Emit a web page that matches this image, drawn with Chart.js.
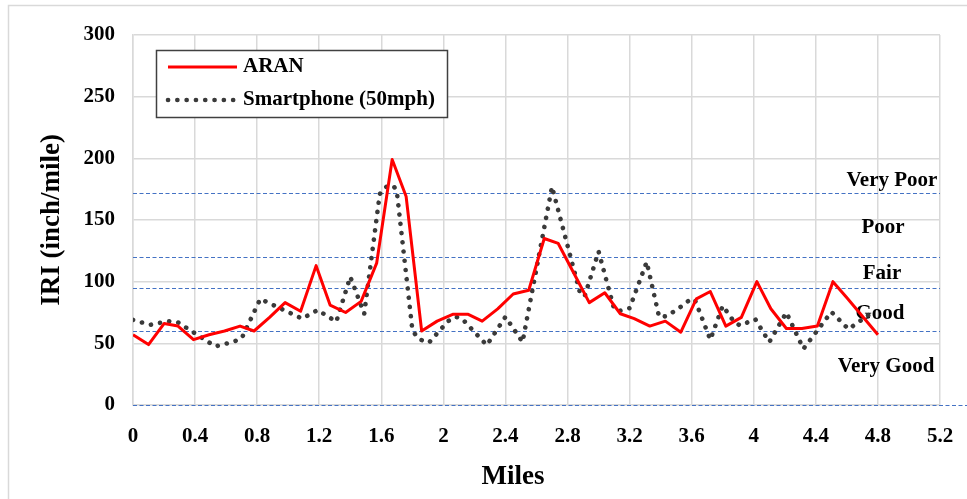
<!DOCTYPE html>
<html lang="en">
<head>
<meta charset="UTF-8">
<title>IRI - ARAN vs Smartphone</title>
<script src="https://cdn.jsdelivr.net/npm/chart.js"></script>
<style>
    html, body { margin: 0; padding: 0; background: #ffffff; overflow: hidden; }
    #iriChart { display: block; }
</style>
</head>
<body>
<canvas id="iriChart" width="967" height="499"></canvas>
<script>
// ARAN IRI per section
const aranMiles = [0, 0.1, 0.2, 0.29, 0.39, 0.49, 0.59, 0.69, 0.78, 0.88,
    0.98, 1.08, 1.18, 1.27, 1.37, 1.47, 1.57, 1.67, 1.76, 1.86,
    1.96, 2.06, 2.16, 2.25, 2.35, 2.45, 2.55, 2.65, 2.74, 2.84,
    2.94, 3.04, 3.14, 3.23, 3.33, 3.43, 3.53, 3.63, 3.72, 3.82,
    3.92, 4.02, 4.11, 4.21, 4.31, 4.41, 4.51, 4.6, 4.7, 4.8];
const aranIRI = [57, 49, 66, 64, 53, 57, 60, 64, 60, 71,
    83, 76, 113, 81, 75, 84, 115, 199, 169, 60,
    68, 73.5, 73.5, 68, 78, 90, 93, 135, 131, 107,
    83, 91, 74, 70, 64, 68, 59, 86, 92, 64,
    71, 100, 78, 62, 62, 64, 100, 87, 72, 57];

// smartphone at 50 mph
const phoneMiles = [0, 0.11, 0.23, 0.29, 0.53, 0.64, 0.7, 0.82, 1.09, 1.19,
    1.31, 1.4, 1.49, 1.59, 1.62, 1.65, 1.68, 1.7, 1.8, 1.83,
    1.88, 1.91, 2.03, 2.08, 2.12, 2.28, 2.4, 2.51, 2.7, 2.88,
    2.91, 3, 3.1, 3.14, 3.2, 3.31, 3.39, 3.44, 3.54, 3.59,
    3.62, 3.72, 3.8, 3.87, 3.91, 4.01, 4.1, 4.21, 4.32, 4.5,
    4.61, 4.74];
const phoneIRI = [69, 65, 68, 67, 47.5, 51, 54, 86, 70, 77,
    67.5, 104, 74, 171, 176, 178, 177.5, 173, 61, 55,
    51, 51, 68, 71.5, 70, 48.5, 71.5, 51, 177, 91,
    88, 124.5, 78, 76.5, 78.5, 116, 71.5, 72, 80.5, 85.5,
    85.5, 53, 80.5, 68, 64.5, 69.5, 51, 75, 45.5, 75.5,
    61.5, 73];

const xTicks = [0, 0.4, 0.8, 1.2, 1.6, 2, 2.4, 2.8, 3.2, 3.6, 4, 4.4, 4.8, 5.2];
const yTicks = [0, 50, 100, 150, 200, 250, 300];

// IRI condition limits and names
const bandLimits = [0, 60, 95, 120, 172];
const bandNames = ['Very Good', 'Good', 'Fair', 'Poor', 'Very Poor'];

const FONT = '"Liberation Serif", "Times New Roman", serif';
Chart.defaults.font.family = FONT;
Chart.defaults.color = '#000000';

// outer chart frame
const framePlugin = {
    id: 'frame',
    beforeDraw(chart) {
        const ctx = chart.ctx;
        ctx.save();
        ctx.fillStyle = '#ffffff';
        ctx.fillRect(0, 0, chart.width, chart.height);
        ctx.strokeStyle = '#d9d9d9';
        ctx.lineWidth = 1.5;
        ctx.strokeRect(8.5, 5.5, chart.width + 100, chart.height + 100);
        ctx.restore();
    }
};

// dashed condition limits + band names
const bandPlugin = {
    id: 'bands',
    beforeDatasetsDraw(chart) {
        const {ctx, chartArea, scales: {y}} = chart;
        const labelAt = [31, 74.5, 106.5, 144, 182];   // IRI value where each name sits
        const labelShift = [54, 60, 58, 57, 48];       // px left of the plot's right edge
        ctx.save();
        ctx.strokeStyle = '#4472c4';
        ctx.lineWidth = 1.2;
        ctx.setLineDash([4, 2.5]);
        bandLimits.forEach(v => {
            const py = Math.round(y.getPixelForValue(v)) + 0.5;
            ctx.beginPath();
            ctx.moveTo(chartArea.left, py);
            ctx.lineTo(v === 0 ? chart.width : chartArea.right, py);
            ctx.stroke();
        });
        ctx.setLineDash([]);
        ctx.fillStyle = '#000000';
        ctx.font = 'bold 21px ' + FONT;
        ctx.textAlign = 'center';
        ctx.textBaseline = 'middle';
        bandNames.forEach((name, i) => {
            ctx.fillText(name, chartArea.right - labelShift[i], y.getPixelForValue(labelAt[i]));
        });
        ctx.restore();
    }
};

// boxed legend in the top-left corner of the plot, plus the x title
const legendPlugin = {
    id: 'boxLegend',
    afterDraw(chart) {
        const ctx = chart.ctx;
        ctx.save();
        ctx.fillStyle = '#ffffff';
        ctx.fillRect(156, 50, 291, 67);
        ctx.strokeStyle = '#404040';
        ctx.lineWidth = 1.5;
        ctx.strokeRect(156.5, 50.5, 291, 67);

        ctx.font = 'bold 21px ' + FONT;
        ctx.textAlign = 'left';
        ctx.textBaseline = 'middle';
        chart.data.datasets.forEach((ds, i) => {
            const yy = 67 + i * 33;
            ctx.strokeStyle = ds.borderColor;
            ctx.lineWidth = ds.borderWidth;
            ctx.lineCap = ds.borderCapStyle || 'butt';
            ctx.setLineDash(ds.borderDash || []);
            ctx.beginPath();
            ctx.moveTo(168, yy);
            ctx.lineTo(237, yy);
            ctx.stroke();
            ctx.setLineDash([]);
            ctx.fillStyle = '#000000';
            ctx.fillText(ds.label, 243, yy);
        });

        ctx.font = 'bold 27px ' + FONT;
        ctx.textAlign = 'center';
        ctx.fillText('Miles', 513, 477);
        ctx.restore();
    }
};

new Chart(document.getElementById('iriChart'), {
    type: 'line',
    data: {
        datasets: [
            {
                label: 'ARAN',
                data: aranMiles.map((m, i) => ({x: m, y: aranIRI[i]})),
                borderColor: '#ff0000',
                borderWidth: 3,
                borderJoinStyle: 'round',
                pointRadius: 0,
                tension: 0
            },
            {
                label: 'Smartphone (50mph)',
                data: phoneMiles.map((m, i) => ({x: m, y: phoneIRI[i]})),
                borderColor: '#3a3a3a',
                borderWidth: 4.6,
                borderDash: [0.1, 9.2],
                borderCapStyle: 'round',
                borderJoinStyle: 'round',
                pointRadius: 0,
                tension: 0
            }
        ]
    },
    options: {
        responsive: false,
        animation: false,
        devicePixelRatio: 1,
        layout: { padding: { left: 0, top: 35, right: 27, bottom: 0 } },
        plugins: {
            legend: { display: false },
            tooltip: { enabled: false }
        },
        scales: {
            x: {
                type: 'linear',
                min: 0,
                max: 5.2,
                afterBuildTicks: s => { s.ticks = xTicks.map(v => ({value: v})); },
                afterFit: s => { s.height = 94; s.paddingLeft = 0; s.paddingRight = 0; },
                grid: { color: '#d9d9d9', lineWidth: 1.5, drawTicks: false },
                border: { color: '#d9d9d9', width: 1.5 },
                ticks: {
                    padding: 19,
                    autoSkip: false,
                    maxRotation: 0,
                    color: '#000000',
                    font: { size: 21, weight: 'bold' },
                    callback: v => String(v)
                }
            },
            y: {
                min: 0,
                max: 300,
                afterBuildTicks: s => { s.ticks = yTicks.map(v => ({value: v})); },
                afterFit: s => { s.width = 133; },
                grid: { color: '#d9d9d9', lineWidth: 1.5, drawTicks: false },
                border: { color: '#d9d9d9', width: 1.5 },
                ticks: {
                    padding: 18,
                    color: '#000000',
                    font: { size: 21, weight: 'bold' },
                    callback: v => String(v)
                },
                title: {
                    display: true,
                    text: 'IRI (inch/mile)',
                    color: '#000000',
                    font: { size: 27, weight: 'bold' },
                    padding: { top: 36, bottom: 0 }
                }
            }
        }
    },
    plugins: [framePlugin, bandPlugin, legendPlugin]
});
</script>
</body>
</html>
